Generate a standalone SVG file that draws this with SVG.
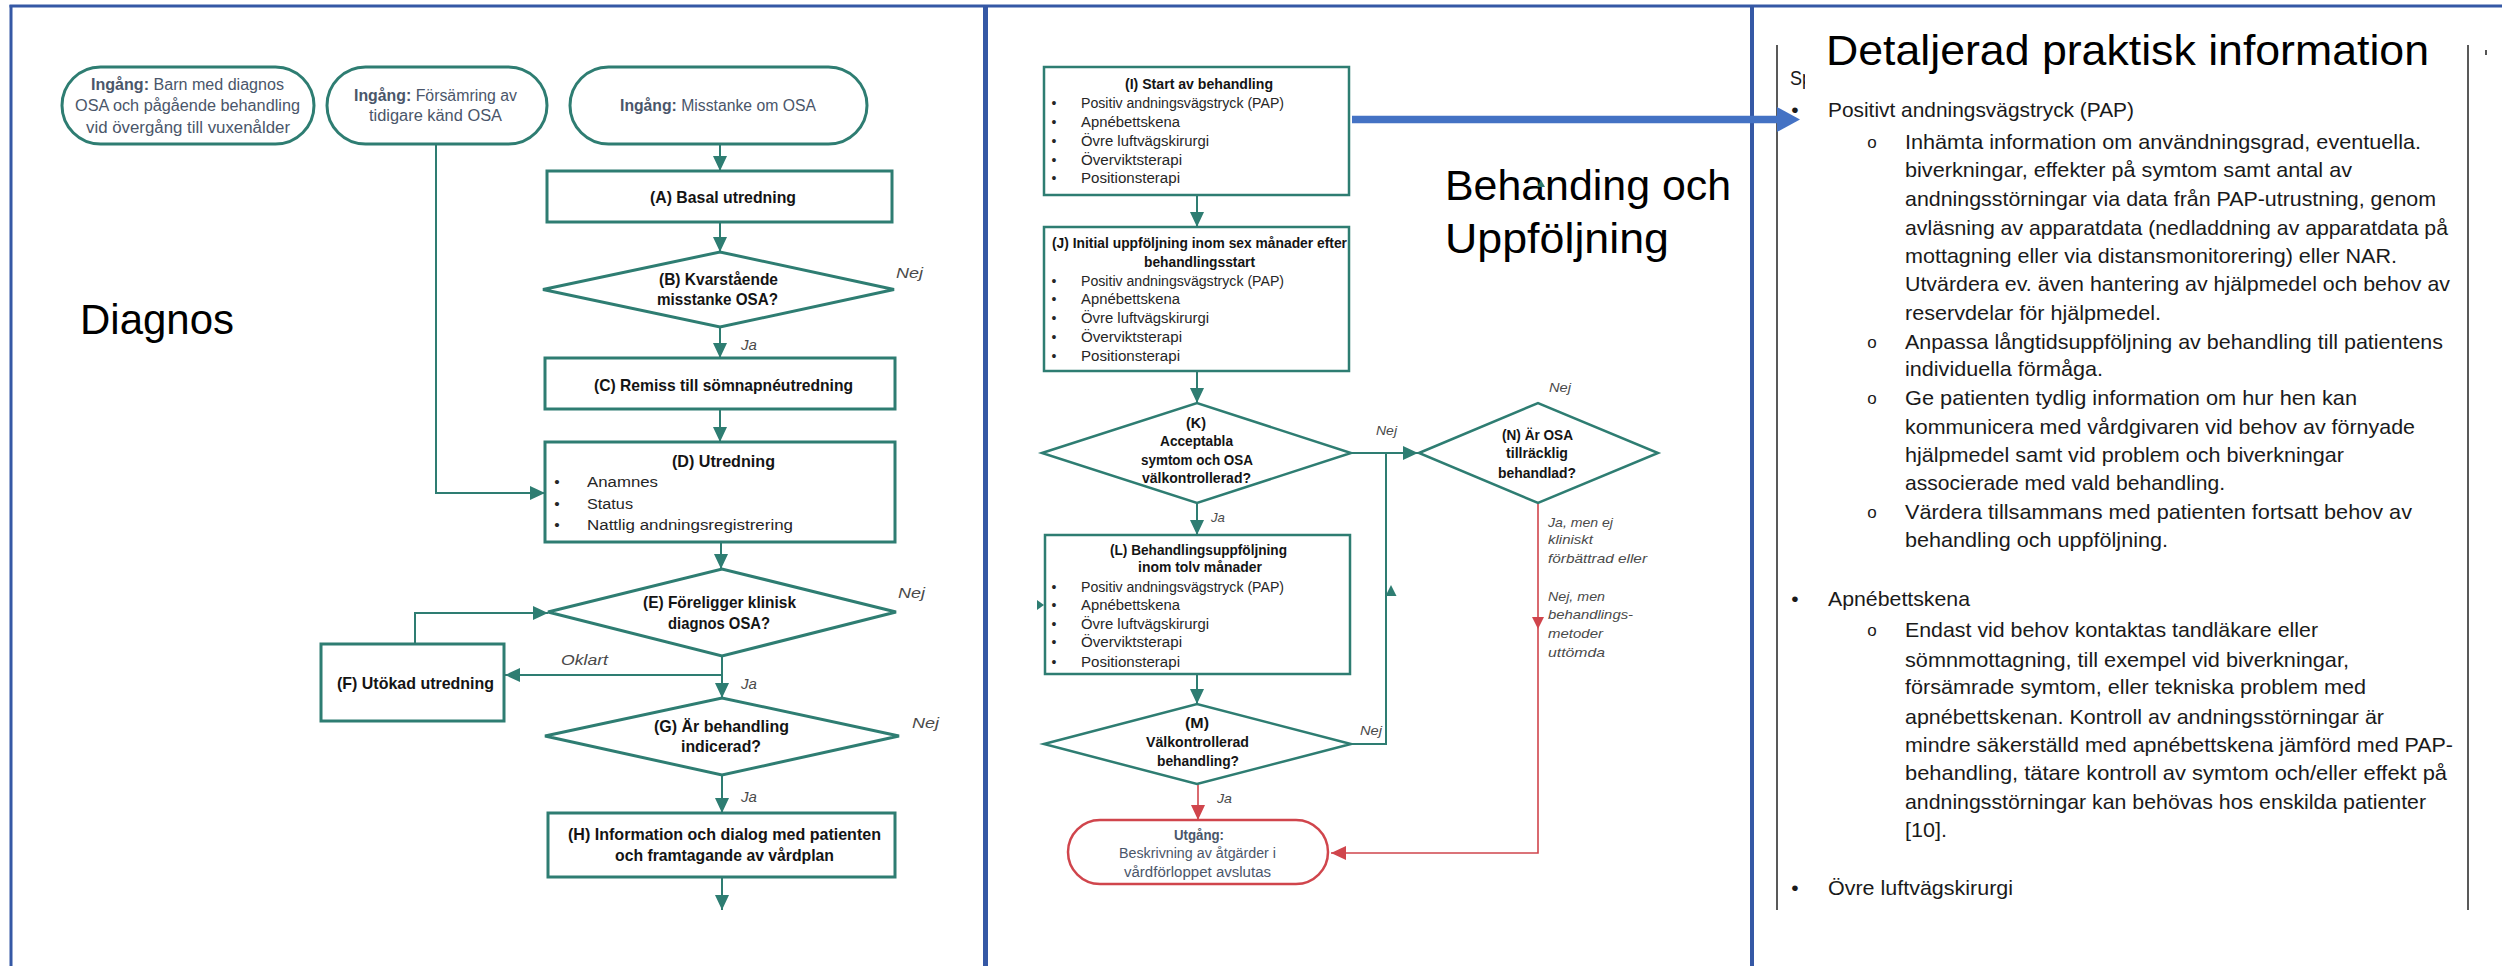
<svg xmlns="http://www.w3.org/2000/svg" width="2502" height="966" viewBox="0 0 2502 966">
  <style>
    text { font-family: "Liberation Sans", Arial, sans-serif; }
    .ttl { font-size: 16.5px; font-weight: bold; fill: #141414; }
    .ent { font-size: 16px; fill: #4a566a; }
    .lab { font-size: 15px; font-style: italic; fill: #4a4a4a; }
    .bul { font-size: 15.5px; fill: #262626; }
    .t2 { font-size: 14px; font-weight: bold; fill: #141414; }
    .b2 { font-size: 14px; fill: #262626; }
    .lab2 { font-size: 13.5px; font-style: italic; fill: #4a4a4a; }
    .head { font-size: 42px; fill: #000; }
    .body { font-size: 21px; fill: #1a1a1a; }
    .sub { font-size: 17px; fill: #1a1a1a; }
    .box { fill: #fff; stroke: #2e7d72; stroke-width: 3; }
    .box2 { fill: #fff; stroke: #2e7d72; stroke-width: 2.5; }
    .con { fill: none; stroke: #2e7d72; stroke-width: 2; }
    .red { fill: none; stroke: #d0454c; stroke-width: 1.6; }
    .frame { stroke: #3558a5; fill: none; }
    .page { stroke: #222; stroke-width: 1.5; fill: none; }
  </style>
  <defs>
    <marker id="ah" markerUnits="userSpaceOnUse" markerWidth="16" markerHeight="16" refX="15" refY="7" orient="auto">
      <path d="M0,0 L15,7 L0,14 z" fill="#2e7d72"/>
    </marker>
    <marker id="ahr" markerUnits="userSpaceOnUse" markerWidth="16" markerHeight="16" refX="15" refY="7" orient="auto">
      <path d="M0,0 L15,7 L0,14 z" fill="#d0454c"/>
    </marker>
    <clipPath id="spClip"><rect x="1780" y="60" width="25" height="40"/></clipPath>
  </defs>

  <rect width="2502" height="966" fill="#fff"/>

  <!-- panel frames -->
  <g id="frames">
    <line class="frame" x1="9.5" y1="6" x2="2502" y2="6" stroke-width="3"/>
    <line class="frame" x1="11" y1="5" x2="11" y2="966" stroke-width="3"/>
    <line class="frame" x1="985.5" y1="5" x2="985.5" y2="966" stroke-width="5"/>
    <line class="frame" x1="1752" y1="5" x2="1752" y2="966" stroke-width="4"/>
    <line class="page" x1="1777" y1="45" x2="1777" y2="910"/>
    <line class="page" x1="2468" y1="45" x2="2468" y2="910"/>
    <rect x="2485" y="50" width="2" height="5" fill="#555"/>
  </g>

  <!-- section headings -->
  <text class="head" x="80" y="334" font-size="40" textLength="154" lengthAdjust="spacingAndGlyphs">Diagnos</text>
  <text class="head" x="1445" y="200" textLength="286" lengthAdjust="spacingAndGlyphs">Behanding och</text>
  <text class="head" x="1445" y="253" textLength="224" lengthAdjust="spacingAndGlyphs">Uppföljning</text>
  <polygon points="1541,180 1537,187 1545,187" fill="#2e7d72"/>

  <!-- connectors -->
  <g id="connectors">
    <path class="con" d="M720,144 V171" marker-end="url(#ah)"/>
    <path class="con" d="M720,222 V252" marker-end="url(#ah)"/>
    <path class="con" d="M720,327 V358" marker-end="url(#ah)"/>
    <path class="con" d="M720,409 V442" marker-end="url(#ah)"/>
    <path class="con" d="M436,144 V493 H545" marker-end="url(#ah)"/>
    <path class="con" d="M721,542 V569" marker-end="url(#ah)"/>
    <path class="con" d="M722,656 V698" marker-end="url(#ah)"/>
    <path class="con" d="M722,675 H505" marker-end="url(#ah)"/>
    <path class="con" d="M415,644 V613 H548" marker-end="url(#ah)"/>
    <path class="con" d="M722,775 V813" marker-end="url(#ah)"/>
    <path class="con" d="M722,877 V910" marker-end="url(#ah)"/>

    <path class="con" d="M1197,195 V227" marker-end="url(#ah)"/>
    <path class="con" d="M1197,371 V403" marker-end="url(#ah)"/>
    <path class="con" d="M1197,503 V535" marker-end="url(#ah)"/>
    <path class="con" d="M1197,674 V704" marker-end="url(#ah)"/>
    <path class="con" d="M1351,453 H1418" marker-end="url(#ah)"/>
    <path class="con" d="M1351,744 H1386 V453"/>
    <polygon points="1391,585 1385.5,596 1396.5,596" fill="#2e7d72"/>
    <polygon points="1037,600 1044,605 1037,610" fill="#2e7d72"/>

    <path class="red" d="M1198,784 V820" marker-end="url(#ahr)"/>
    <path class="red" d="M1538,503 V853 H1331" marker-end="url(#ahr)"/>
    <polygon points="1532,617 1544,617 1538,629" fill="#d0454c"/>

    <line x1="1352" y1="119.5" x2="1778" y2="119.5" stroke="#4472c4" stroke-width="7.5"/>
    <polygon points="1777,107 1800,119.5 1777,132" fill="#4472c4"/>
  </g>

  <!-- Diagnos flow -->
  <g id="entry-barn">
    <rect class="box" x="62" y="67" width="252" height="77" rx="38.5"/>
    <text class="ent" x="91" y="90" textLength="193" lengthAdjust="spacingAndGlyphs"><tspan font-weight="bold">Ingång:</tspan> Barn med diagnos</text>
    <text class="ent" x="75" y="111" textLength="225" lengthAdjust="spacingAndGlyphs">OSA och pågående behandling</text>
    <text class="ent" x="86" y="133" textLength="204" lengthAdjust="spacingAndGlyphs">vid övergång till vuxenålder</text>
  </g>
  <g id="entry-forsamring">
    <rect class="box" x="327" y="67" width="220" height="77" rx="38.5"/>
    <text class="ent" x="354" y="101" textLength="163" lengthAdjust="spacingAndGlyphs"><tspan font-weight="bold">Ingång:</tspan> Försämring av</text>
    <text class="ent" x="369" y="121" textLength="133" lengthAdjust="spacingAndGlyphs">tidigare känd OSA</text>
  </g>
  <g id="entry-misstanke">
    <rect class="box" x="570" y="67" width="297" height="77" rx="38.5"/>
    <text class="ent" x="620" y="111" textLength="196" lengthAdjust="spacingAndGlyphs"><tspan font-weight="bold">Ingång:</tspan> Misstanke om OSA</text>
  </g>
  <g id="node-A">
    <rect class="box" x="547" y="171" width="345" height="51"/>
    <text class="ttl" x="650" y="203" textLength="146" lengthAdjust="spacingAndGlyphs">(A) Basal utredning</text>
  </g>
  <g id="node-B">
    <polygon class="box" points="543,289.5 720,252 894,289.5 720,327"/>
    <text class="ttl" x="659" y="285" textLength="119" lengthAdjust="spacingAndGlyphs">(B) Kvarstående</text>
    <text class="ttl" x="657" y="305" textLength="121" lengthAdjust="spacingAndGlyphs">misstanke OSA?</text>
    <text class="lab" x="896" y="278" textLength="27" lengthAdjust="spacingAndGlyphs">Nej</text>
    <text class="lab" x="741" y="350">Ja</text>
  </g>
  <g id="node-C">
    <rect class="box" x="545" y="358" width="350" height="51"/>
    <text class="ttl" x="594" y="391" textLength="259" lengthAdjust="spacingAndGlyphs">(C) Remiss till sömnapnéutredning</text>
  </g>
  <g id="node-D">
    <rect class="box" x="545" y="442" width="350" height="100"/>
    <text class="ttl" x="672" y="467" textLength="103" lengthAdjust="spacingAndGlyphs">(D) Utredning</text>
    <text class="bul" x="557" y="487" text-anchor="middle">•</text>
    <text class="bul" x="557" y="509" text-anchor="middle">•</text>
    <text class="bul" x="557" y="530" text-anchor="middle">•</text>
    <text class="bul" x="587" y="487" textLength="71" lengthAdjust="spacingAndGlyphs">Anamnes</text>
    <text class="bul" x="587" y="509" textLength="46" lengthAdjust="spacingAndGlyphs">Status</text>
    <text class="bul" x="587" y="530" textLength="206" lengthAdjust="spacingAndGlyphs">Nattlig andningsregistrering</text>
  </g>
  <g id="node-E">
    <polygon class="box" points="548,612 722,569 896,612 722,656"/>
    <text class="ttl" x="643" y="608" textLength="153" lengthAdjust="spacingAndGlyphs">(E) Föreligger klinisk</text>
    <text class="ttl" x="668" y="629" textLength="102" lengthAdjust="spacingAndGlyphs">diagnos OSA?</text>
    <text class="lab" x="898" y="598" textLength="27" lengthAdjust="spacingAndGlyphs">Nej</text>
    <text class="lab" x="561" y="665" textLength="47" lengthAdjust="spacingAndGlyphs">Oklart</text>
    <text class="lab" x="741" y="689">Ja</text>
  </g>
  <g id="node-F">
    <rect class="box" x="321" y="644" width="183" height="77"/>
    <text class="ttl" x="337" y="689" textLength="157" lengthAdjust="spacingAndGlyphs">(F) Utökad utredning</text>
  </g>
  <g id="node-G">
    <polygon class="box" points="545,736 722,698 899,736 722,775"/>
    <text class="ttl" x="654" y="732" textLength="135" lengthAdjust="spacingAndGlyphs">(G) Är behandling</text>
    <text class="ttl" x="681" y="752" textLength="80" lengthAdjust="spacingAndGlyphs">indicerad?</text>
    <text class="lab" x="912" y="728" textLength="27" lengthAdjust="spacingAndGlyphs">Nej</text>
    <text class="lab" x="741" y="802">Ja</text>
  </g>
  <g id="node-H">
    <rect class="box" x="548" y="813" width="347" height="64"/>
    <text class="ttl" x="568" y="840" textLength="313" lengthAdjust="spacingAndGlyphs">(H) Information och dialog med patienten</text>
    <text class="ttl" x="615" y="861" textLength="219" lengthAdjust="spacingAndGlyphs">och framtagande av vårdplan</text>
  </g>

  <!-- Behandling flow -->
  <g id="node-I">
    <rect class="box2" x="1044" y="67" width="305" height="128"/>
    <text class="t2" x="1125" y="89" textLength="148" lengthAdjust="spacingAndGlyphs">(I) Start av behandling</text>
    <text class="b2" x="1054" y="107.5" text-anchor="middle">•</text>
    <text class="b2" x="1054" y="126.5" text-anchor="middle">•</text>
    <text class="b2" x="1054" y="145.5" text-anchor="middle">•</text>
    <text class="b2" x="1054" y="164.5" text-anchor="middle">•</text>
    <text class="b2" x="1054" y="182.5" text-anchor="middle">•</text>
    <text class="b2" x="1081" y="107.5" textLength="203" lengthAdjust="spacingAndGlyphs">Positiv andningsvägstryck (PAP)</text>
    <text class="b2" x="1081" y="126.5" textLength="99" lengthAdjust="spacingAndGlyphs">Apnébettskena</text>
    <text class="b2" x="1081" y="145.5" textLength="128" lengthAdjust="spacingAndGlyphs">Övre luftvägskirurgi</text>
    <text class="b2" x="1081" y="164.5" textLength="101" lengthAdjust="spacingAndGlyphs">Överviktsterapi</text>
    <text class="b2" x="1081" y="182.5" textLength="99" lengthAdjust="spacingAndGlyphs">Positionsterapi</text>
  </g>
  <g id="node-J">
    <rect class="box2" x="1044" y="227" width="305" height="144"/>
    <text class="t2" x="1052" y="247.5" textLength="295" lengthAdjust="spacingAndGlyphs">(J) Initial uppföljning inom sex månader efter</text>
    <text class="t2" x="1144" y="266.5" textLength="111" lengthAdjust="spacingAndGlyphs">behandlingsstart</text>
    <text class="b2" x="1054" y="285.5" text-anchor="middle">•</text>
    <text class="b2" x="1054" y="303.5" text-anchor="middle">•</text>
    <text class="b2" x="1054" y="322.5" text-anchor="middle">•</text>
    <text class="b2" x="1054" y="341.5" text-anchor="middle">•</text>
    <text class="b2" x="1054" y="360.5" text-anchor="middle">•</text>
    <text class="b2" x="1081" y="285.5" textLength="203" lengthAdjust="spacingAndGlyphs">Positiv andningsvägstryck (PAP)</text>
    <text class="b2" x="1081" y="303.5" textLength="99" lengthAdjust="spacingAndGlyphs">Apnébettskena</text>
    <text class="b2" x="1081" y="322.5" textLength="128" lengthAdjust="spacingAndGlyphs">Övre luftvägskirurgi</text>
    <text class="b2" x="1081" y="341.5" textLength="101" lengthAdjust="spacingAndGlyphs">Överviktsterapi</text>
    <text class="b2" x="1081" y="360.5" textLength="99" lengthAdjust="spacingAndGlyphs">Positionsterapi</text>
  </g>
  <g id="node-K">
    <polygon class="box2" points="1042,453 1197,403 1351,453 1197,503"/>
    <text class="t2" x="1186" y="427.5" textLength="20" lengthAdjust="spacingAndGlyphs">(K)</text>
    <text class="t2" x="1160" y="445.5" textLength="73" lengthAdjust="spacingAndGlyphs">Acceptabla</text>
    <text class="t2" x="1141" y="464.5" textLength="112" lengthAdjust="spacingAndGlyphs">symtom och OSA</text>
    <text class="t2" x="1142" y="482.5" textLength="109" lengthAdjust="spacingAndGlyphs">välkontrollerad?</text>
    <text class="lab2" x="1376" y="434.5" textLength="21" lengthAdjust="spacingAndGlyphs">Nej</text>
    <text class="lab2" x="1211" y="521.5" textLength="14" lengthAdjust="spacingAndGlyphs">Ja</text>
  </g>
  <g id="node-N">
    <polygon class="box2" points="1419,453 1538,403 1658,453 1538,503"/>
    <text class="t2" x="1502" y="439.5" textLength="71" lengthAdjust="spacingAndGlyphs">(N) Är OSA</text>
    <text class="t2" x="1506" y="457.5" textLength="62" lengthAdjust="spacingAndGlyphs">tillräcklig</text>
    <text class="t2" x="1498" y="477.5" textLength="78" lengthAdjust="spacingAndGlyphs">behandlad?</text>
    <text class="lab2" x="1549" y="391.5" textLength="22" lengthAdjust="spacingAndGlyphs">Nej</text>
    <text class="lab2" x="1548" y="526.5" textLength="65" lengthAdjust="spacingAndGlyphs">Ja, men ej</text>
    <text class="lab2" x="1548" y="543.5" textLength="45" lengthAdjust="spacingAndGlyphs">kliniskt</text>
    <text class="lab2" x="1548" y="562.5" textLength="99" lengthAdjust="spacingAndGlyphs">förbättrad eller</text>
    <text class="lab2" x="1548" y="600.5" textLength="57" lengthAdjust="spacingAndGlyphs">Nej, men</text>
    <text class="lab2" x="1548" y="618.5" textLength="85" lengthAdjust="spacingAndGlyphs">behandlings-</text>
    <text class="lab2" x="1548" y="637.5" textLength="55" lengthAdjust="spacingAndGlyphs">metoder</text>
    <text class="lab2" x="1548" y="656.5" textLength="57" lengthAdjust="spacingAndGlyphs">uttömda</text>
  </g>
  <g id="node-L">
    <rect class="box2" x="1045" y="535" width="305" height="139"/>
    <text class="t2" x="1110" y="554.5" textLength="177" lengthAdjust="spacingAndGlyphs">(L) Behandlingsuppföljning</text>
    <text class="t2" x="1138" y="571.5" textLength="124" lengthAdjust="spacingAndGlyphs">inom tolv månader</text>
    <text class="b2" x="1054" y="591.5" text-anchor="middle">•</text>
    <text class="b2" x="1054" y="609.5" text-anchor="middle">•</text>
    <text class="b2" x="1054" y="628.5" text-anchor="middle">•</text>
    <text class="b2" x="1054" y="646.5" text-anchor="middle">•</text>
    <text class="b2" x="1054" y="666.5" text-anchor="middle">•</text>
    <text class="b2" x="1081" y="591.5" textLength="203" lengthAdjust="spacingAndGlyphs">Positiv andningsvägstryck (PAP)</text>
    <text class="b2" x="1081" y="609.5" textLength="99" lengthAdjust="spacingAndGlyphs">Apnébettskena</text>
    <text class="b2" x="1081" y="628.5" textLength="128" lengthAdjust="spacingAndGlyphs">Övre luftvägskirurgi</text>
    <text class="b2" x="1081" y="646.5" textLength="101" lengthAdjust="spacingAndGlyphs">Överviktsterapi</text>
    <text class="b2" x="1081" y="666.5" textLength="99" lengthAdjust="spacingAndGlyphs">Positionsterapi</text>
  </g>
  <g id="node-M">
    <polygon class="box2" points="1044,744 1197,704 1351,744 1197,784"/>
    <text class="t2" x="1185" y="727.5" textLength="24" lengthAdjust="spacingAndGlyphs">(M)</text>
    <text class="t2" x="1146" y="746.5" textLength="103" lengthAdjust="spacingAndGlyphs">Välkontrollerad</text>
    <text class="t2" x="1157" y="765.5" textLength="82" lengthAdjust="spacingAndGlyphs">behandling?</text>
    <text class="lab2" x="1360" y="734.5" textLength="22" lengthAdjust="spacingAndGlyphs">Nej</text>
    <text class="lab2" x="1217" y="802.5" textLength="15" lengthAdjust="spacingAndGlyphs">Ja</text>
  </g>
  <g id="exit">
    <rect x="1068" y="820" width="260" height="64" rx="32" fill="#fff" stroke="#d0454c" stroke-width="2.5"/>
    <text class="t2" x="1174" y="839.5" style="fill:#4a566a" textLength="50" lengthAdjust="spacingAndGlyphs">Utgång:</text>
    <text class="b2" x="1119" y="857.5" style="fill:#4a566a" textLength="157" lengthAdjust="spacingAndGlyphs">Beskrivning av åtgärder i</text>
    <text class="b2" x="1124" y="876.5" style="fill:#4a566a" textLength="147" lengthAdjust="spacingAndGlyphs">vårdförloppet avslutas</text>
  </g>

  <!-- practical information page -->
  <g id="info">
    <text class="head" x="1826" y="65" font-size="44" textLength="603" lengthAdjust="spacingAndGlyphs">Detaljerad praktisk information</text>
    <text class="body" x="1790" y="85" textLength="22" lengthAdjust="spacingAndGlyphs" clip-path="url(#spClip)">Sp</text>

    <text class="body" x="1795" y="117" text-anchor="middle">•</text>
    <text class="body" x="1828" y="117" textLength="306" lengthAdjust="spacingAndGlyphs">Positivt andningsvägstryck (PAP)</text>
    <text class="sub" x="1872" y="147.5" text-anchor="middle">o</text>
    <text class="body" x="1905" y="148.5" textLength="516" lengthAdjust="spacingAndGlyphs">Inhämta information om användningsgrad, eventuella.</text>
    <text class="body" x="1905" y="176.5" textLength="447" lengthAdjust="spacingAndGlyphs">biverkningar, effekter på symtom samt antal av</text>
    <text class="body" x="1905" y="205.5" textLength="531" lengthAdjust="spacingAndGlyphs">andningsstörningar via data från PAP-utrustning, genom</text>
    <text class="body" x="1905" y="234.5" textLength="543" lengthAdjust="spacingAndGlyphs">avläsning av apparatdata (nedladdning av apparatdata på</text>
    <text class="body" x="1905" y="262.5" textLength="492" lengthAdjust="spacingAndGlyphs">mottagning eller via distansmonitorering) eller NAR.</text>
    <text class="body" x="1905" y="290.5" textLength="545" lengthAdjust="spacingAndGlyphs">Utvärdera ev. även hantering av hjälpmedel och behov av</text>
    <text class="body" x="1905" y="319.5" textLength="256" lengthAdjust="spacingAndGlyphs">reservdelar för hjälpmedel.</text>
    <text class="sub" x="1872" y="347.5" text-anchor="middle">o</text>
    <text class="body" x="1905" y="348.5" textLength="538" lengthAdjust="spacingAndGlyphs">Anpassa långtidsuppföljning av behandling till patientens</text>
    <text class="body" x="1905" y="375.5" textLength="198" lengthAdjust="spacingAndGlyphs">individuella förmåga.</text>
    <text class="sub" x="1872" y="403.5" text-anchor="middle">o</text>
    <text class="body" x="1905" y="404.5" textLength="452" lengthAdjust="spacingAndGlyphs">Ge patienten tydlig information om hur hen kan</text>
    <text class="body" x="1905" y="433.5" textLength="510" lengthAdjust="spacingAndGlyphs">kommunicera med vårdgivaren vid behov av förnyade</text>
    <text class="body" x="1905" y="461.5" textLength="439" lengthAdjust="spacingAndGlyphs">hjälpmedel samt vid problem och biverkningar</text>
    <text class="body" x="1905" y="489.5" textLength="320" lengthAdjust="spacingAndGlyphs">associerade med vald behandling.</text>
    <text class="sub" x="1872" y="517.5" text-anchor="middle">o</text>
    <text class="body" x="1905" y="518.5" textLength="507" lengthAdjust="spacingAndGlyphs">Värdera tillsammans med patienten fortsatt behov av</text>
    <text class="body" x="1905" y="546.5" textLength="263" lengthAdjust="spacingAndGlyphs">behandling och uppföljning.</text>

    <text class="body" x="1795" y="605.5" text-anchor="middle">•</text>
    <text class="body" x="1828" y="605.5" textLength="142" lengthAdjust="spacingAndGlyphs">Apnébettskena</text>
    <text class="sub" x="1872" y="635.5" text-anchor="middle">o</text>
    <text class="body" x="1905" y="636.5" textLength="413" lengthAdjust="spacingAndGlyphs">Endast vid behov kontaktas tandläkare eller</text>
    <text class="body" x="1905" y="666.5" textLength="444" lengthAdjust="spacingAndGlyphs">sömnmottagning, till exempel vid biverkningar,</text>
    <text class="body" x="1905" y="693.5" textLength="461" lengthAdjust="spacingAndGlyphs">försämrade symtom, eller tekniska problem med</text>
    <text class="body" x="1905" y="723.5" textLength="479" lengthAdjust="spacingAndGlyphs">apnébettskenan. Kontroll av andningsstörningar är</text>
    <text class="body" x="1905" y="751.5" textLength="548" lengthAdjust="spacingAndGlyphs">mindre säkerställd med apnébettskena jämförd med PAP-</text>
    <text class="body" x="1905" y="779.5" textLength="542" lengthAdjust="spacingAndGlyphs">behandling, tätare kontroll av symtom och/eller effekt på</text>
    <text class="body" x="1905" y="808.5" textLength="521" lengthAdjust="spacingAndGlyphs">andningsstörningar kan behövas hos enskilda patienter</text>
    <text class="body" x="1905" y="836.5" textLength="42" lengthAdjust="spacingAndGlyphs">[10].</text>

    <text class="body" x="1795" y="894.5" text-anchor="middle">•</text>
    <text class="body" x="1828" y="894.5" textLength="185" lengthAdjust="spacingAndGlyphs">Övre luftvägskirurgi</text>
  </g>
</svg>
